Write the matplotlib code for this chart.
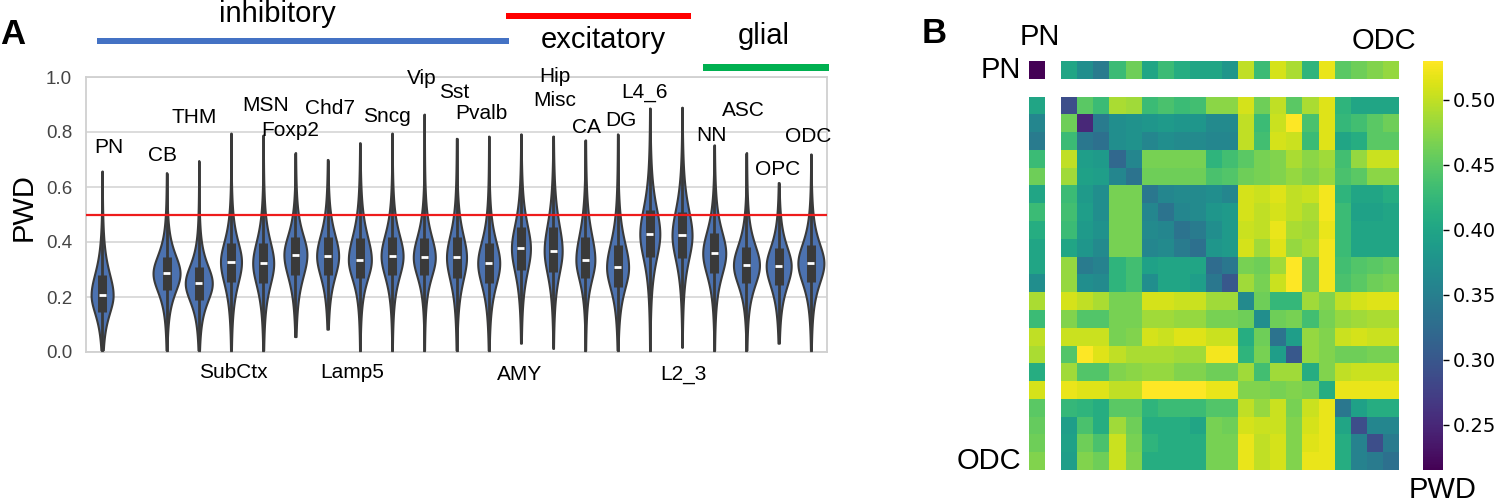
import numpy as np
import matplotlib
matplotlib.use("Agg")
import matplotlib.pyplot as plt
from matplotlib.patches import Rectangle

plt.rcParams['font.family'] = ['Liberation Sans', 'DejaVu Sans']

# ---------------- data: panel A (violins) ----------------
x_slots = ['PN', '', 'CB', 'THM', 'SubCtx', 'MSN', 'Foxp2', 'Chd7', 'Lamp5', 'Sncg',
           'Vip', 'Sst', 'Pvalb', 'AMY', 'Hip', 'CA', 'DG', 'L4_6', 'L2_3', 'NN',
           'ASC', 'OPC', 'ODC']
categories = [c for c in x_slots if c]

pwd_min = [0.0, 0.0, 0.0, 0.0, 0.0, 0.056, 0.083, 0.0, 0.0, 0.0, 0.0, 0.0,
           0.032, 0.013, 0.0, 0.0, 0.0, 0.017, 0.0, 0.0, 0.032, 0.0]
pwd_q1 = [0.145, 0.225, 0.19, 0.255, 0.25, 0.28, 0.28, 0.27, 0.28, 0.28, 0.268, 0.25,
          0.298, 0.29, 0.268, 0.237, 0.347, 0.343, 0.287, 0.25, 0.245, 0.256]
pwd_median = [0.207, 0.286, 0.25, 0.328, 0.323, 0.354, 0.349, 0.335, 0.349, 0.344, 0.344, 0.323,
              0.377, 0.368, 0.335, 0.308, 0.429, 0.424, 0.359, 0.316, 0.313, 0.323]
pwd_q3 = [0.28, 0.347, 0.31, 0.396, 0.396, 0.42, 0.42, 0.414, 0.42, 0.414, 0.419, 0.396,
          0.456, 0.456, 0.419, 0.389, 0.516, 0.51, 0.432, 0.383, 0.377, 0.389]
pwd_max = [0.658, 0.652, 0.696, 0.796, 0.789, 0.725, 0.70, 0.761, 0.796, 0.865, 0.777, 0.785,
           0.793, 0.785, 0.771, 0.793, 0.887, 0.89, 0.753, 0.725, 0.616, 0.72]

# annotation labels (text, x in slot units, y in PWD units)
label_text = ['PN', 'CB', 'THM', 'MSN', 'Foxp2', 'Chd7', 'Sncg', 'Vip', 'Sst', 'Pvalb',
              'Hip', 'Misc', 'CA', 'DG', 'L4_6', 'NN', 'ASC', 'OPC', 'ODC',
              'SubCtx', 'Lamp5', 'AMY', 'L2_3']
label_x = [0.22, 1.86, 2.86, 5.09, 5.83, 7.08, 8.85, 9.93, 10.92, 11.76,
           14.06, 14.06, 15.02, 16.1, 16.85, 18.93, 19.89, 20.98, 21.91,
           4.07, 7.76, 12.97, 18.03]
label_y = [0.742, 0.716, 0.851, 0.895, 0.807, 0.887, 0.858, 0.993, 0.945, 0.869,
           1.0, 0.913, 0.818, 0.84, 0.945, 0.789, 0.88, 0.662, 0.785,
           -0.076, -0.076, -0.082, -0.08]

# violin peak widths in pixels (style)
violin_px = [22, 27, 27, 21, 21, 23, 22, 23, 22, 22, 20, 22, 19, 18, 19, 22, 20, 20, 23, 26, 25, 26]

# ---------------- data: panel B (heatmap) ----------------
pn_row = [0.215, 0.40, 0.37, 0.345, 0.43, 0.46, 0.40, 0.43, 0.41, 0.40, 0.40, 0.38,
          0.50, 0.43, 0.51, 0.49, 0.42, 0.52, 0.45, 0.46, 0.47, 0.48]
pn_col = [0.40, 0.36, 0.345, 0.43, 0.46, 0.40, 0.43, 0.41, 0.40, 0.40, 0.37,
          0.49, 0.43, 0.50, 0.49, 0.41, 0.51, 0.45, 0.455, 0.46, 0.47]
main_block = [
    [0.29, 0.45, 0.43, 0.49, 0.485, 0.43, 0.44, 0.43, 0.435, 0.475, 0.475, 0.51, 0.46, 0.50, 0.45, 0.49, 0.515, 0.42, 0.40, 0.40, 0.40],
    [0.46, 0.25, 0.345, 0.37, 0.375, 0.38, 0.385, 0.38, 0.38, 0.365, 0.365, 0.50, 0.43, 0.505, 0.53, 0.44, 0.515, 0.425, 0.435, 0.45, 0.46],
    [0.43, 0.34, 0.33, 0.37, 0.375, 0.36, 0.37, 0.365, 0.365, 0.36, 0.36, 0.50, 0.435, 0.51, 0.505, 0.43, 0.515, 0.40, 0.41, 0.45, 0.45],
    [0.50, 0.39, 0.385, 0.32, 0.36, 0.465, 0.465, 0.465, 0.465, 0.42, 0.435, 0.45, 0.465, 0.47, 0.49, 0.475, 0.485, 0.435, 0.48, 0.505, 0.505],
    [0.485, 0.395, 0.39, 0.36, 0.335, 0.46, 0.46, 0.46, 0.46, 0.44, 0.445, 0.46, 0.465, 0.47, 0.48, 0.47, 0.48, 0.44, 0.45, 0.475, 0.475],
    [0.43, 0.385, 0.37, 0.465, 0.465, 0.34, 0.36, 0.365, 0.365, 0.37, 0.36, 0.51, 0.505, 0.515, 0.50, 0.505, 0.525, 0.42, 0.40, 0.40, 0.41],
    [0.435, 0.39, 0.37, 0.465, 0.465, 0.36, 0.335, 0.36, 0.365, 0.38, 0.385, 0.51, 0.50, 0.51, 0.50, 0.49, 0.525, 0.43, 0.395, 0.395, 0.40],
    [0.43, 0.385, 0.375, 0.465, 0.465, 0.365, 0.36, 0.335, 0.345, 0.37, 0.385, 0.505, 0.50, 0.52, 0.49, 0.485, 0.52, 0.43, 0.40, 0.40, 0.40],
    [0.40, 0.38, 0.365, 0.465, 0.465, 0.36, 0.365, 0.345, 0.33, 0.38, 0.385, 0.51, 0.485, 0.515, 0.48, 0.49, 0.525, 0.43, 0.40, 0.40, 0.40],
    [0.48, 0.345, 0.355, 0.42, 0.435, 0.395, 0.40, 0.40, 0.40, 0.325, 0.34, 0.465, 0.46, 0.485, 0.53, 0.46, 0.525, 0.435, 0.445, 0.45, 0.455],
    [0.48, 0.37, 0.365, 0.42, 0.435, 0.37, 0.40, 0.40, 0.39, 0.34, 0.30, 0.485, 0.465, 0.505, 0.53, 0.46, 0.525, 0.44, 0.45, 0.46, 0.465],
    [0.51, 0.50, 0.49, 0.465, 0.465, 0.51, 0.51, 0.505, 0.505, 0.485, 0.485, 0.365, 0.46, 0.425, 0.425, 0.485, 0.47, 0.50, 0.51, 0.515, 0.515],
    [0.47, 0.445, 0.445, 0.465, 0.465, 0.485, 0.485, 0.48, 0.48, 0.465, 0.465, 0.46, 0.37, 0.46, 0.465, 0.435, 0.465, 0.48, 0.485, 0.49, 0.49],
    [0.505, 0.505, 0.505, 0.465, 0.47, 0.51, 0.505, 0.515, 0.515, 0.505, 0.505, 0.41, 0.46, 0.335, 0.39, 0.48, 0.47, 0.505, 0.51, 0.505, 0.505],
    [0.445, 0.53, 0.515, 0.50, 0.49, 0.49, 0.49, 0.485, 0.485, 0.525, 0.525, 0.42, 0.465, 0.39, 0.30, 0.48, 0.47, 0.46, 0.46, 0.465, 0.465],
    [0.485, 0.445, 0.445, 0.47, 0.475, 0.48, 0.48, 0.47, 0.47, 0.46, 0.46, 0.485, 0.435, 0.485, 0.485, 0.41, 0.47, 0.50, 0.505, 0.505, 0.505],
    [0.52, 0.515, 0.515, 0.50, 0.50, 0.53, 0.53, 0.53, 0.53, 0.52, 0.52, 0.47, 0.47, 0.465, 0.47, 0.465, 0.41, 0.52, 0.52, 0.52, 0.52],
    [0.425, 0.42, 0.41, 0.45, 0.45, 0.42, 0.43, 0.43, 0.43, 0.445, 0.445, 0.50, 0.48, 0.505, 0.465, 0.505, 0.52, 0.34, 0.395, 0.41, 0.41],
    [0.39, 0.44, 0.41, 0.485, 0.46, 0.41, 0.41, 0.41, 0.40, 0.465, 0.46, 0.51, 0.505, 0.505, 0.47, 0.51, 0.52, 0.40, 0.29, 0.36, 0.36],
    [0.395, 0.46, 0.44, 0.505, 0.465, 0.42, 0.41, 0.41, 0.41, 0.465, 0.465, 0.52, 0.50, 0.51, 0.47, 0.515, 0.52, 0.41, 0.355, 0.29, 0.345],
    [0.39, 0.47, 0.46, 0.505, 0.47, 0.41, 0.41, 0.41, 0.41, 0.465, 0.465, 0.52, 0.50, 0.51, 0.47, 0.52, 0.52, 0.41, 0.355, 0.345, 0.33],
]
cbar_ticks = [0.25, 0.30, 0.35, 0.40, 0.45, 0.50]
pwd_range = (0.215, 0.53)

# ---------------- figure ----------------
W, H = 1500, 503
fig = plt.figure(figsize=(W / 100, H / 100), dpi=100)


def fx(px):
    return px / W


def fy(py):
    return 1 - py / H


# ---- panel A ----
ax = fig.add_axes([fx(86), fy(352), fx(827) - fx(86), fy(77) - fy(352)])
positions = [x_slots.index(c) for c in categories]
slot_px = (827 - 86) / len(x_slots)

stats = []
for lo, q1, med, q3, hi in zip(pwd_min, pwd_q1, pwd_median, pwd_q3, pwd_max):
    ys = np.linspace(lo, hi, 300)
    s = np.where(ys < med, (med - q1) / 0.765, (q3 - med) / 0.765)
    z = (ys - med) / s
    dens = (1 + z ** 2 / 3.0) ** -2
    stats.append(dict(coords=ys, vals=dens, mean=med, median=med, min=lo, max=hi))

widths = [w / slot_px for w in violin_px]
vp = ax.violin(stats, positions=positions, widths=widths,
               showmeans=False, showextrema=False, showmedians=False)
for body in vp['bodies']:
    body.set_facecolor('#4C72B0')
    body.set_edgecolor('#3a3a3a')
    body.set_linewidth(1.5)
    body.set_alpha(1)
    body.set_zorder(2)

ax.vlines(positions, pwd_min, pwd_max, color='#3a3a3a', lw=2.0, zorder=3)
ax.vlines(positions, pwd_q1, pwd_q3, color='#3a3a3a', lw=6.5, zorder=3)
pos = np.array(positions, dtype=float)
ax.hlines(pwd_median, pos - 0.11, pos + 0.11, color='white', lw=2, zorder=4)

ax.axhline(0.5, color='#ee1c1c', lw=1.6, zorder=5)

ax.set_xlim(-0.5, len(x_slots) - 0.5)
ax.set_ylim(0, 1.0)
ax.set_yticks([0.0, 0.2, 0.4, 0.6, 0.8, 1.0])
ax.set_yticklabels(['0.0', '0.2', '0.4', '0.6', '0.8', '1.0'])
ax.set_xticks([])
ax.yaxis.grid(True, color='#d9d9d9', lw=1.3)
ax.set_axisbelow(True)
ax.tick_params(axis='y', length=0, labelsize=13.5, labelcolor='#444444', pad=10)
for sp in ax.spines.values():
    sp.set_color('#d0d0d0')
    sp.set_linewidth(1.3)

for t, x, y in zip(label_text, label_x, label_y):
    ax.text(x, y, t, ha='center', va='center', fontsize=15, clip_on=False, zorder=6)

fig.text(fx(24), fy(207), 'PWD', rotation=90, ha='center', va='center', fontsize=21)

# group headers
fig.add_artist(Rectangle((fx(97), fy(44)), fx(509) - fx(97), fy(38) - fy(44),
                         transform=fig.transFigure, color='#4472c4', lw=0))
fig.add_artist(Rectangle((fx(506), fy(19)), fx(691) - fx(506), fy(13) - fy(19),
                         transform=fig.transFigure, color='#ff0000', lw=0))
fig.add_artist(Rectangle((fx(703), fy(71)), fx(829) - fx(703), fy(64) - fy(71),
                         transform=fig.transFigure, color='#00b050', lw=0))
fig.text(fx(277), fy(14), 'inhibitory', ha='center', va='center', fontsize=21)
fig.text(fx(603), fy(40), 'excitatory', ha='center', va='center', fontsize=21)
fig.text(fx(764), fy(36), 'glial', ha='center', va='center', fontsize=21)

fig.text(fx(13), fy(35), 'A', ha='center', va='center', fontsize=25, fontweight='bold')
fig.text(fx(934), fy(33), 'B', ha='center', va='center', fontsize=25, fontweight='bold')

# ---- panel B ----
n = len(categories)
full = np.full((n, n), np.nan)
full[0, :] = pn_row
full[1:, 0] = pn_col
full[1:, 1:] = np.array(main_block)
disp = np.full((n + 1, n + 1), np.nan)
disp[0, 0] = full[0, 0]
disp[0, 2:] = full[0, 1:]
disp[2:, 0] = full[1:, 0]
disp[2:, 2:] = full[1:, 1:]

hax = fig.add_axes([fx(1029), fy(470), fx(1399) - fx(1029), fy(61) - fy(470)])
mesh = hax.pcolormesh(np.ma.masked_invalid(disp), cmap='viridis',
                      vmin=pwd_range[0], vmax=pwd_range[1])
hax.set_xlim(0, n + 1)
hax.set_ylim(n + 1, 0)
hax.set_xticks([])
hax.set_yticks([])
for sp in hax.spines.values():
    sp.set_visible(False)

fig.text(fx(1040), fy(37), categories[0], ha='center', va='center', fontsize=21)
fig.text(fx(1384), fy(41), categories[-1], ha='center', va='center', fontsize=21)
fig.text(fx(1021), fy(70), categories[0], ha='right', va='center', fontsize=21)
fig.text(fx(1021), fy(461), categories[-1], ha='right', va='center', fontsize=21)

cax = fig.add_axes([fx(1423), fy(470), fx(1443) - fx(1423), fy(61) - fy(470)])
cb = fig.colorbar(mesh, cax=cax, ticks=cbar_ticks)
cb.outline.set_visible(False)
cb.ax.set_yticklabels(['%.2f' % t for t in cbar_ticks], family='DejaVu Sans')
cb.ax.tick_params(labelsize=14, length=4, width=1, pad=3)
fig.text(fx(1443), fy(490), 'PWD', ha='center', va='center', fontsize=21)

fig.savefig('out.png', dpi=100)
